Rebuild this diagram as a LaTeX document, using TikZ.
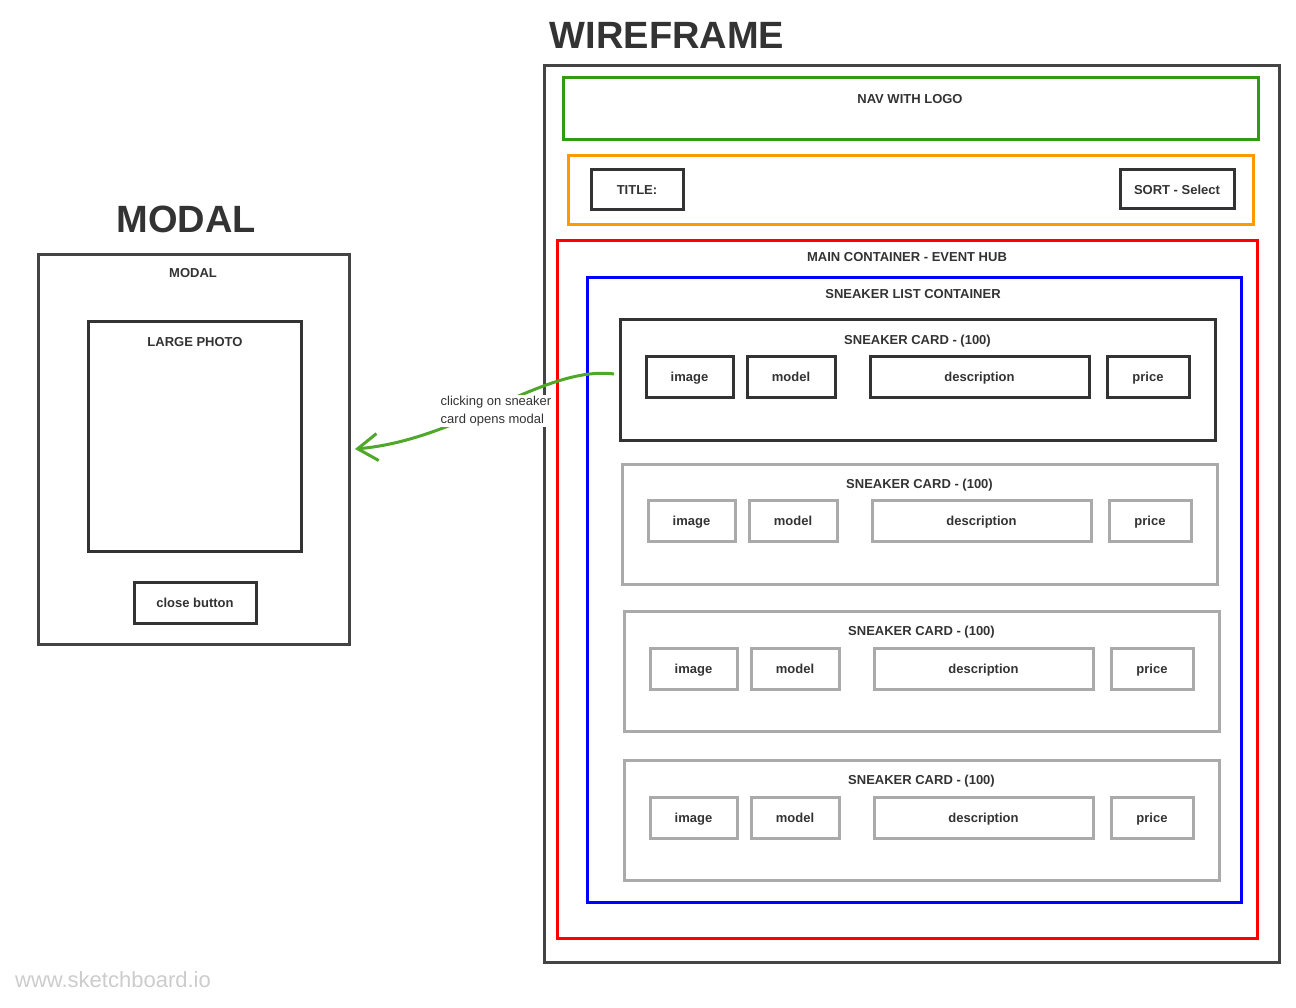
\documentclass[tikz,border=0pt]{standalone}
\usepackage{fontspec}
\setmainfont{Liberation Sans}
\usepackage{tikz}
\usetikzlibrary{arrows.meta, positioning, calc}
\definecolor{ink}{HTML}{333333}
\definecolor{framegray}{HTML}{444444}
\definecolor{navgreen}{HTML}{339A14}
\definecolor{linkgreen}{HTML}{4FA82A}
\definecolor{sortorange}{HTML}{FF9900}
\definecolor{cardgray}{HTML}{AAAAAA}
\definecolor{markgray}{HTML}{CCCCCC}

\begin{document}
\begin{tikzpicture}[x=1pt, y=-1pt,
    box/.style={draw=#1, line width=3pt, outer sep=0pt, inner sep=0pt},
    box/.default=ink,
    lbl/.style={font=\fontsize{13}{18}\selectfont\bfseries, text=ink, text height=9.5pt, text depth=0pt},
    headline/.style={font=\fontsize{38}{44}\selectfont\bfseries, text=ink},
    part/.style={box=#1, lbl, minimum height=41pt},
    part/.default=ink,
    link/.style={draw=linkgreen, line width=3pt, -{Straight Barb[length=20pt, width=27pt]}}
]
\useasboundingbox (0,0) rectangle (1296,1008);

% Titles
\node[headline] (wftitle) at (667,35) {WIREFRAME};
\node[headline] (modaltitle) at (186,219) {MODAL};

% Modal side
\node[box=framegray, minimum width=311pt, minimum height=389pt] (modal) at (193.5,449.5) {};
\node[lbl] (modaltext) at (193,273) {MODAL};
\node[box, minimum width=213pt, minimum height=229pt] (photo) at (194.5,436.5) {};
\node[lbl] (phototext) at (195,342) {LARGE PHOTO};
\node[part, minimum width=122pt] (close) at (195,602.5) {close button};

% Wireframe side
\node[box=framegray, minimum width=735pt, minimum height=896pt] (page) at (911.5,514) {};

\node[box=navgreen, minimum width=695pt, minimum height=62pt] (nav) at (910.5,109) {};
\node[lbl] (navtext) at (910,99) {NAV WITH LOGO};

\node[box=sortorange, minimum width=685pt, minimum height=69pt] (header) at (910.5,190.5) {};
\node[part, minimum width=92pt, minimum height=40pt] (title) at (637,190) {TITLE:};
\node[part, minimum width=114pt, minimum height=39pt] (sort) at (1177,189.5) {SORT - Select};

\node[box=red, minimum width=700pt, minimum height=697pt] (main) at (907,589.5) {};
\node[lbl] (maintext) at (907,257) {MAIN CONTAINER - EVENT HUB};

\node[box=blue, minimum width=654pt, minimum height=624pt] (list) at (914,590) {};
\node[lbl] (listtext) at (913,294) {SNEAKER LIST CONTAINER};

% Card 1
\node[box, minimum width=595pt, minimum height=120pt] (card1) at (917.5,380) {};
\node[lbl] (cardtext1) at ($(card1.north)+(0,20)$) {SNEAKER CARD - (100)};
\node[part, minimum width=87pt, anchor=north west] (img1) at ($(card1.north west)+(26,36)$) {image};
\node[part, minimum width=88pt, right=14pt of img1] (model1) {model};
\node[part, minimum width=219pt, right=35pt of model1] (desc1) {description};
\node[part, minimum width=82pt, right=18pt of desc1] (price1) {price};

% Card 2
\node[box=cardgray, minimum width=595pt, minimum height=120pt] (card2) at (919.5,524) {};
\node[lbl] (cardtext2) at ($(card2.north)+(0,20)$) {SNEAKER CARD - (100)};
\node[part=cardgray, minimum width=87pt, anchor=north west] (img2) at ($(card2.north west)+(26,36)$) {image};
\node[part=cardgray, minimum width=88pt, right=14pt of img2] (model2) {model};
\node[part=cardgray, minimum width=219pt, right=35pt of model2] (desc2) {description};
\node[part=cardgray, minimum width=82pt, right=18pt of desc2] (price2) {price};

% Card 3
\node[box=cardgray, minimum width=595pt, minimum height=120pt] (card3) at (921.5,671) {};
\node[lbl] (cardtext3) at ($(card3.north)+(0,20)$) {SNEAKER CARD - (100)};
\node[part=cardgray, minimum width=87pt, anchor=north west] (img3) at ($(card3.north west)+(26,37)$) {image};
\node[part=cardgray, minimum width=88pt, right=14pt of img3] (model3) {model};
\node[part=cardgray, minimum width=219pt, right=35pt of model3] (desc3) {description};
\node[part=cardgray, minimum width=82pt, right=18pt of desc3] (price3) {price};

% Card 4
\node[box=cardgray, minimum width=595pt, minimum height=120pt] (card4) at (921.5,820) {};
\node[lbl] (cardtext4) at ($(card4.north)+(0,20)$) {SNEAKER CARD - (100)};
\node[part=cardgray, minimum width=87pt, anchor=north west] (img4) at ($(card4.north west)+(26,37)$) {image};
\node[part=cardgray, minimum width=88pt, right=14pt of img4] (model4) {model};
\node[part=cardgray, minimum width=219pt, right=35pt of model4] (desc4) {description};
\node[part=cardgray, minimum width=82pt, right=18pt of desc4] (price4) {price};

% Card opens modal
\draw[link, shorten >=6pt] ([xshift=-6pt, yshift=6pt]card1.west) .. controls (545,365) and (460,440) .. (modal.east);
\node[fill=white, inner sep=1pt, align=left, text=ink, font=\fontsize{13}{18}\selectfont] (hint) at (496,411) {clicking on sneaker\\card opens modal};

% Watermark
\node[text=markgray, font=\fontsize{22}{26}\selectfont] (mark) at (113,980) {www.sketchboard.io};

\end{tikzpicture}
\end{document}
